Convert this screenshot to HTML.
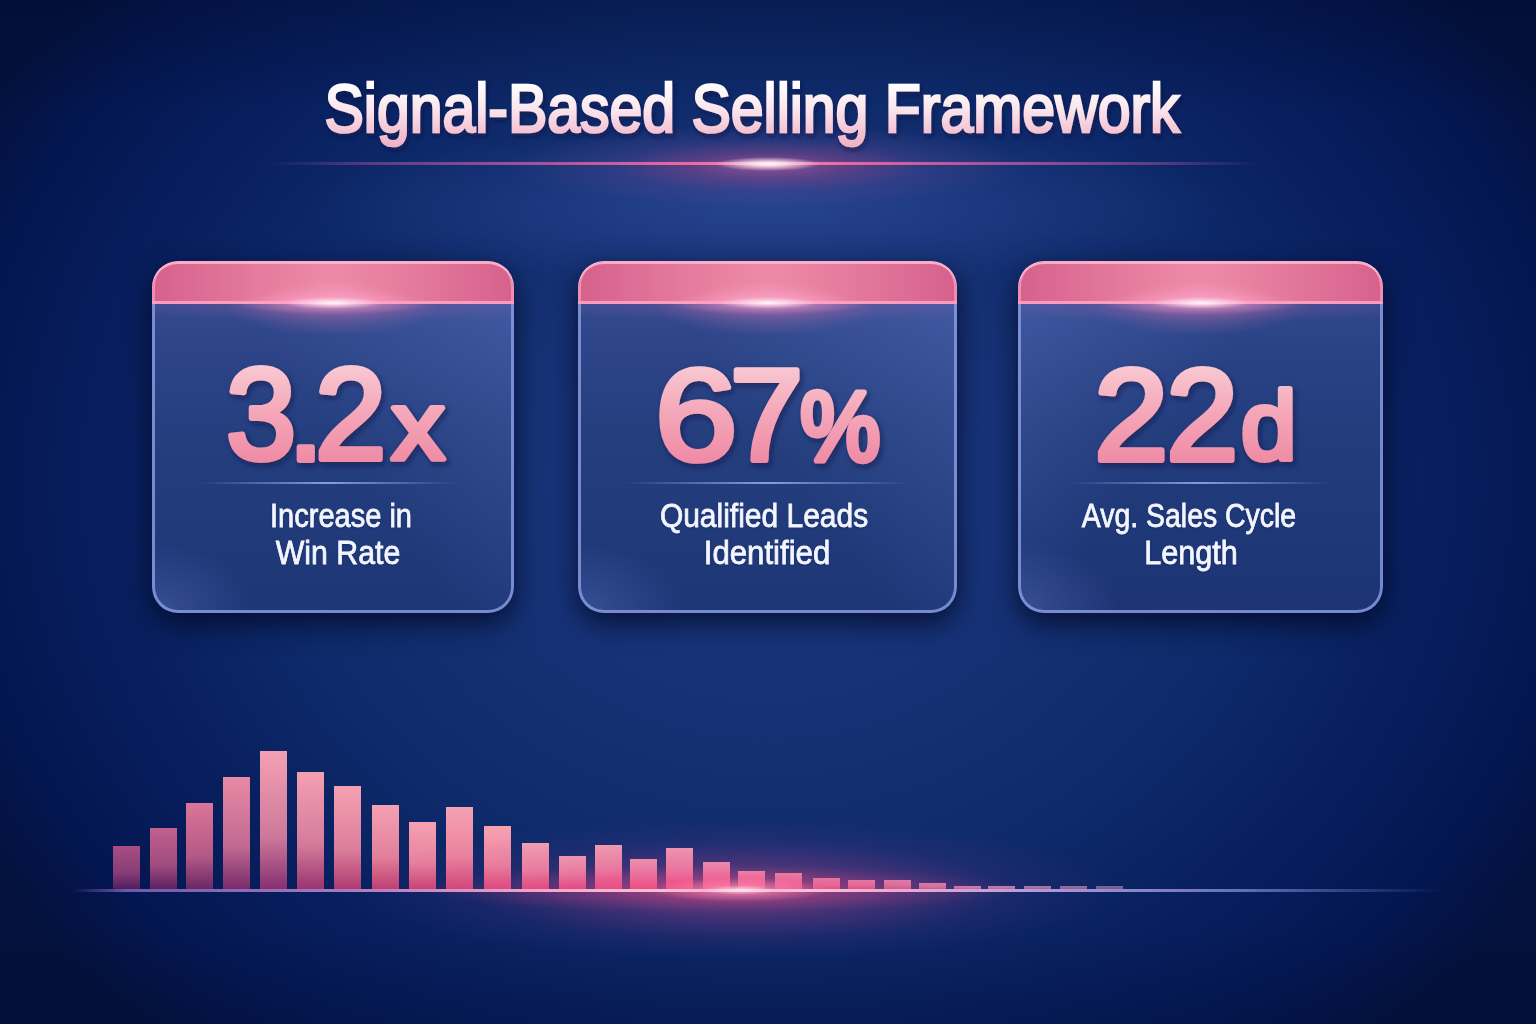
<!DOCTYPE html>
<html><head><meta charset="utf-8">
<style>
html,body{margin:0;padding:0;}
body{width:1536px;height:1024px;overflow:hidden;position:relative;font-family:"Liberation Sans",sans-serif;background:#0a1e5a;}
.layer{position:absolute;left:0;top:0;width:1536px;height:1024px;}
#bg1{background:radial-gradient(ellipse 900px 760px at 768px 480px,#1c3a82 0%,#163276 30%,#0e2a6a 55%,#071d5c 76%,#041650 90%,#03113c 100%);}
#bg2{background:linear-gradient(to bottom,rgba(0,10,40,.3) 0px,rgba(0,10,40,0) 110px,rgba(0,10,40,0) 930px,rgba(0,10,40,.18) 1024px);}
#bg3{background:radial-gradient(ellipse 460px 80px at 768px 205px,rgba(60,90,175,.45),rgba(60,90,175,0));}
svg{position:absolute;left:0;top:0;overflow:visible;}
.lab{position:absolute;white-space:nowrap;line-height:1;transform-origin:0 0;font-size:33px;color:#f4f6ff;-webkit-text-stroke:0.8px #f4f6ff;text-shadow:0 1px 2px rgba(5,15,50,.4);}
#tline{position:absolute;left:270px;top:162px;width:990px;height:3px;
 background:linear-gradient(90deg,rgba(150,80,170,0) 0%,rgba(160,80,165,.5) 10%,rgba(215,90,160,.8) 28%,#ff72a4 42%,#ffb8d4 50%,#ff72a4 58%,rgba(215,90,160,.8) 72%,rgba(160,80,165,.5) 90%,rgba(150,80,170,0) 100%);}
#tglow{position:absolute;left:508px;top:124px;width:520px;height:84px;
 background:radial-gradient(ellipse 260px 42px at center,rgba(240,100,160,.55) 0%,rgba(200,80,150,.35) 30%,rgba(130,80,160,.18) 60%,rgba(130,80,160,0) 100%);}
#tspot{position:absolute;left:716px;top:157px;width:104px;height:14px;
 background:radial-gradient(ellipse 52px 7px at center,rgba(255,252,254,1) 0%,rgba(255,225,238,.85) 35%,rgba(255,160,205,0) 100%);}
.card{position:absolute;top:261px;height:352px;box-sizing:border-box;border-radius:26px;
 background:
  radial-gradient(ellipse 30% 9% at 50% 43px,rgba(225,120,180,.45),rgba(225,120,180,0)),
  radial-gradient(ellipse 70% 5% at 50% 43px,rgba(150,90,165,.45),rgba(150,90,165,0)),
  radial-gradient(ellipse 28% 20% at 0% 100%,rgba(120,140,220,.3),rgba(120,140,220,0)),
  linear-gradient(235deg,rgba(105,130,212,.3) 0%,rgba(105,130,212,0) 50%),
  linear-gradient(180deg,#3d5196 0%,#2f468a 20%,#243e7e 50%,#1d3676 100%);
 box-shadow:0 10px 28px rgba(0,6,30,.75);overflow:hidden;}
.card.c3{background:
  radial-gradient(ellipse 30% 9% at 50% 43px,rgba(225,120,180,.45),rgba(225,120,180,0)),
  radial-gradient(ellipse 70% 5% at 50% 43px,rgba(150,90,165,.45),rgba(150,90,165,0)),
  radial-gradient(ellipse 28% 20% at 0% 100%,rgba(120,140,220,.3),rgba(120,140,220,0)),
  linear-gradient(125deg,rgba(105,130,212,.3) 0%,rgba(105,130,212,0) 45%),
  linear-gradient(180deg,#3b4f94 0%,#2c4488 20%,#223c7c 50%,#1c3474 100%);}
.card .bd{position:absolute;left:0;top:0;right:0;bottom:0;border-radius:26px;box-shadow:inset 0 0 0 3px rgba(135,152,222,.85);}
.card .hd{position:absolute;left:0;top:0;right:0;height:43px;border-radius:26px 26px 0 0;
 background:
  radial-gradient(ellipse 22% 55% at 50% 100%,rgba(255,175,210,.55),rgba(255,175,210,0)),
  linear-gradient(90deg,#d6618c 0%,#e47a9d 28%,#ee8aa8 50%,#e47a9d 72%,#d6618c 100%);
 box-shadow:inset 0 3px 0 rgba(255,185,205,.85), inset 3px 0 0 rgba(250,160,190,.7), inset -3px 0 0 rgba(250,160,190,.7), inset 0 -3px 0 rgba(255,165,200,.85);}
.card .hglow{position:absolute;left:50%;top:30px;width:200px;height:24px;margin-left:-100px;
 background:radial-gradient(ellipse 100px 12px at center,rgba(255,250,252,1) 0%,rgba(255,220,235,.85) 18%,rgba(255,160,200,.35) 50%,rgba(255,140,190,0) 100%);}
.div{position:absolute;top:482px;height:2px;
 background:linear-gradient(90deg,rgba(130,150,230,0),rgba(150,165,240,.9) 50%,rgba(130,150,230,0));}
.bar{position:absolute;width:27px;}
#base{position:absolute;left:72px;top:889px;width:1370px;height:2.5px;
 background:linear-gradient(90deg,rgba(120,110,210,0) 0%,rgba(150,120,210,.7) 4%,rgba(190,130,200,.9) 20%,#f4a8c8 35%,#ffd0e0 48%,#ffe0ea 49.5%,#f0b0d0 58%,#c0a0dc 68%,rgba(130,140,220,.75) 85%,rgba(120,140,220,0) 100%);}
#bglow{position:absolute;left:360px;top:815px;width:760px;height:140px;
 background:radial-gradient(ellipse 380px 70px at 380px 75px,rgba(240,85,145,.5) 0%,rgba(200,70,150,.28) 40%,rgba(150,60,150,.1) 70%,rgba(150,60,150,0) 100%);}
#bred{position:absolute;left:420px;top:866px;width:600px;height:46px;
 background:radial-gradient(ellipse 300px 23px at center,rgba(245,75,125,.5) 0%,rgba(230,70,130,.25) 50%,rgba(230,70,130,0) 100%);}
#bspot{position:absolute;left:650px;top:878px;width:180px;height:24px;
 background:radial-gradient(ellipse 90px 12px at center,rgba(255,230,240,.9) 0%,rgba(255,150,190,.45) 40%,rgba(255,120,170,0) 100%);}
#bdark{position:absolute;left:0;top:700px;width:700px;height:324px;
 background:radial-gradient(ellipse 330px 170px at 90px 200px,rgba(2,8,40,.55) 0%,rgba(2,8,40,.3) 50%,rgba(2,8,40,0) 100%);}
</style></head>
<body>
<div class="layer" id="bg1"></div>
<div class="layer" id="bg2"></div>
<div class="layer" id="bg3"></div>
<div id="tline"></div>
<div id="tglow"></div>
<div id="tspot"></div>
<div class="card" style="left:152px;width:362px;"><div class="bd"></div><div class="hd"></div><div class="hglow"></div></div>
<div class="card" style="left:578px;width:379px;"><div class="bd"></div><div class="hd"></div><div class="hglow"></div></div>
<div class="card c3" style="left:1018px;width:365px;"><div class="bd"></div><div class="hd"></div><div class="hglow"></div></div>
<div class="div" style="left:200px;width:256px"></div>
<div class="div" style="left:624px;width:287px"></div>
<div class="div" style="left:1070px;width:260px"></div>
<svg width="1536" height="1024" viewBox="0 0 1536 1024">
<defs>
<linearGradient id="gt" x1="0" y1="-49" x2="0" y2="15" gradientUnits="userSpaceOnUse"><stop offset="0" stop-color="#ffffff"/><stop offset=".4" stop-color="#fbe6ee"/><stop offset=".75" stop-color="#f4c4d4"/><stop offset="1" stop-color="#eeb0c6"/></linearGradient>
<linearGradient id="gn" x1="0" y1="-97" x2="0" y2="1" gradientUnits="userSpaceOnUse"><stop offset="0" stop-color="#f9c8d2"/><stop offset=".5" stop-color="#f4a6b8"/><stop offset="1" stop-color="#ef8aa5"/></linearGradient>
<filter id="sh" x="-10%" y="-20%" width="120%" height="140%"><feDropShadow dx="2" dy="3" stdDeviation="2.5" flood-color="#0a1240" flood-opacity=".55"/></filter>
</defs>
<defs><linearGradient id="gg0" x1="0" y1="-72.07" x2="0" y2="2.93" gradientUnits="userSpaceOnUse"><stop offset="0" stop-color="#f9c8d2"/><stop offset=".5" stop-color="#f4a6b8"/><stop offset="1" stop-color="#ef8aa5"/></linearGradient><linearGradient id="gg1" x1="0" y1="-77.73" x2="0" y2="2.48" gradientUnits="userSpaceOnUse"><stop offset="0" stop-color="#f9c8d2"/><stop offset=".5" stop-color="#f4a6b8"/><stop offset="1" stop-color="#ef8aa5"/></linearGradient><linearGradient id="gg2" x1="0" y1="-72.08" x2="0" y2="3.10" gradientUnits="userSpaceOnUse"><stop offset="0" stop-color="#f9c8d2"/><stop offset=".5" stop-color="#f4a6b8"/><stop offset="1" stop-color="#ef8aa5"/></linearGradient><linearGradient id="gg3" x1="0" y1="-96.19" x2="0" y2="4.14" gradientUnits="userSpaceOnUse"><stop offset="0" stop-color="#f9c8d2"/><stop offset=".5" stop-color="#f4a6b8"/><stop offset="1" stop-color="#ef8aa5"/></linearGradient><linearGradient id="gg4" x1="0" y1="-72.06" x2="0" y2="2.54" gradientUnits="userSpaceOnUse"><stop offset="0" stop-color="#f9c8d2"/><stop offset=".5" stop-color="#f4a6b8"/><stop offset="1" stop-color="#ef8aa5"/></linearGradient><linearGradient id="gg5" x1="0" y1="-72.61" x2="0" y2="2.32" gradientUnits="userSpaceOnUse"><stop offset="0" stop-color="#f9c8d2"/><stop offset=".5" stop-color="#f4a6b8"/><stop offset="1" stop-color="#ef8aa5"/></linearGradient><linearGradient id="gg6" x1="0" y1="-95.72" x2="0" y2="3.05" gradientUnits="userSpaceOnUse"><stop offset="0" stop-color="#f9c8d2"/><stop offset=".5" stop-color="#f4a6b8"/><stop offset="1" stop-color="#ef8aa5"/></linearGradient><linearGradient id="gg7" x1="0" y1="-72.06" x2="0" y2="2.70" gradientUnits="userSpaceOnUse"><stop offset="0" stop-color="#f9c8d2"/><stop offset=".5" stop-color="#f4a6b8"/><stop offset="1" stop-color="#ef8aa5"/></linearGradient><linearGradient id="gg8" x1="0" y1="-72.06" x2="0" y2="2.70" gradientUnits="userSpaceOnUse"><stop offset="0" stop-color="#f9c8d2"/><stop offset=".5" stop-color="#f4a6b8"/><stop offset="1" stop-color="#ef8aa5"/></linearGradient><linearGradient id="gg9" x1="0" y1="-95.12" x2="0" y2="4.60" gradientUnits="userSpaceOnUse"><stop offset="0" stop-color="#f9c8d2"/><stop offset=".5" stop-color="#f4a6b8"/><stop offset="1" stop-color="#ef8aa5"/></linearGradient></defs>
<text transform="translate(752,132) scale(0.867,1)" text-anchor="middle" font-family="Liberation Sans" font-weight="normal" font-size="68" fill="url(#gt)" stroke="url(#gt)" stroke-width="2.6" filter="url(#sh)">Signal-Based Selling Framework</text>
<g filter="url(#sh)"><text transform="translate(226.30,459.21) scale(1.2526,1.2933)" font-family="Liberation Sans" font-weight="normal" font-size="100" fill="url(#gg0)" stroke="url(#gg0)" stroke-width="6" vector-effect="non-scaling-stroke" stroke-linejoin="round">3</text>
<text transform="translate(288.32,460.00) scale(1.2632,1.2093)" font-family="Liberation Sans" font-weight="normal" font-size="100" fill="url(#gg1)" stroke="url(#gg1)" stroke-width="6" vector-effect="non-scaling-stroke" stroke-linejoin="round">.</text>
<text transform="translate(315.13,459.00) scale(1.2747,1.2903)" font-family="Liberation Sans" font-weight="normal" font-size="100" fill="url(#gg2)" stroke="url(#gg2)" stroke-width="6" vector-effect="non-scaling-stroke" stroke-linejoin="round">2</text>
<text transform="translate(391.68,459.00) scale(1.0526,0.9668)" font-family="Liberation Sans" font-weight="normal" font-size="100" fill="url(#gg3)" stroke="url(#gg3)" stroke-width="6" vector-effect="non-scaling-stroke" stroke-linejoin="round">x</text>
<text transform="translate(655.09,459.70) scale(1.4811,1.3004)" font-family="Liberation Sans" font-weight="normal" font-size="100" fill="url(#gg4)" stroke="url(#gg4)" stroke-width="6" vector-effect="non-scaling-stroke" stroke-linejoin="round">6</text>
<text transform="translate(730.10,460.00) scale(1.3149,1.2945)" font-family="Liberation Sans" font-weight="normal" font-size="100" fill="url(#gg5)" stroke="url(#gg5)" stroke-width="6" vector-effect="non-scaling-stroke" stroke-linejoin="round">7</text>
<text transform="translate(800.35,460.01) scale(0.8991,0.9821)" font-family="Liberation Sans" font-weight="normal" font-size="100" fill="url(#gg6)" stroke="url(#gg6)" stroke-width="6" vector-effect="non-scaling-stroke" stroke-linejoin="round">%</text>
<text transform="translate(1094.35,459.50) scale(1.3297,1.2975)" font-family="Liberation Sans" font-weight="normal" font-size="100" fill="url(#gg7)" stroke="url(#gg7)" stroke-width="6" vector-effect="non-scaling-stroke" stroke-linejoin="round">2</text>
<text transform="translate(1166.57,459.50) scale(1.2857,1.2975)" font-family="Liberation Sans" font-weight="normal" font-size="100" fill="url(#gg8)" stroke="url(#gg8)" stroke-width="6" vector-effect="non-scaling-stroke" stroke-linejoin="round">2</text>
<text transform="translate(1241.30,458.53) scale(0.9889,0.9728)" font-family="Liberation Sans" font-weight="normal" font-size="100" fill="url(#gg9)" stroke="url(#gg9)" stroke-width="6" vector-effect="non-scaling-stroke" stroke-linejoin="round">d</text></g>
</svg>
<div class="lab" style="left:341px;top:499.1px;transform:scaleX(0.88) translateX(-50%)">Increase in</div>
<div class="lab" style="left:338px;top:536.1px;transform:scaleX(0.917) translateX(-50%)">Win Rate</div>
<div class="lab" style="left:764px;top:499.1px;transform:scaleX(0.908) translateX(-50%)">Qualified Leads</div>
<div class="lab" style="left:767px;top:536.1px;transform:scaleX(0.945) translateX(-50%)">Identified</div>
<div class="lab" style="left:1188.5px;top:499.1px;transform:scaleX(0.861) translateX(-50%)">Avg. Sales Cycle</div>
<div class="lab" style="left:1190.5px;top:536.1px;transform:scaleX(0.928) translateX(-50%)">Length</div>
<div id="bars">
<div class="bar" style="left:113px;top:846px;height:43px;background:linear-gradient(#a84e84,#883d76 62%,#4e1e5c);opacity:1.00"></div>
<div class="bar" style="left:150px;top:828px;height:61px;background:linear-gradient(#c2618e,#9e4b7e 62%,#5c2261);opacity:1.00"></div>
<div class="bar" style="left:186px;top:803px;height:86px;background:linear-gradient(#dc7498,#b45986 62%,#6a2766);opacity:1.00"></div>
<div class="bar" style="left:223px;top:777px;height:112px;background:linear-gradient(#e88aa5,#c16991 62%,#782c6b);opacity:1.00"></div>
<div class="bar" style="left:260px;top:751px;height:138px;background:linear-gradient(#f4a0b2,#ce799b 62%,#863070);opacity:1.00"></div>
<div class="bar" style="left:297px;top:772px;height:117px;background:linear-gradient(#f4a0b2,#d47b9b 62%,#993570);opacity:1.00"></div>
<div class="bar" style="left:334px;top:786px;height:103px;background:linear-gradient(#f5a1b2,#dc7d9b 62%,#ad3b70);opacity:1.00"></div>
<div class="bar" style="left:372px;top:805px;height:84px;background:linear-gradient(#f5a1b2,#e27f9b 62%,#c04070);opacity:1.00"></div>
<div class="bar" style="left:409px;top:822px;height:67px;background:linear-gradient(#f5a1b3,#e7809d 62%,#cc4473);opacity:1.00"></div>
<div class="bar" style="left:446px;top:807px;height:82px;background:linear-gradient(#f5a1b3,#eb829e 62%,#d84877);opacity:1.00"></div>
<div class="bar" style="left:484px;top:826px;height:63px;background:linear-gradient(#f6a2b3,#f0849f 62%,#e44c7a);opacity:1.00"></div>
<div class="bar" style="left:522px;top:843px;height:46px;background:linear-gradient(#f6a2b3,#f185a0 62%,#e94e7c);opacity:1.00"></div>
<div class="bar" style="left:559px;top:856px;height:33px;background:linear-gradient(#f6a2b3,#f385a0 62%,#ed507e);opacity:1.00"></div>
<div class="bar" style="left:595px;top:845px;height:44px;background:linear-gradient(#f7a3b3,#f587a1 62%,#f25280);opacity:1.00"></div>
<div class="bar" style="left:630px;top:859px;height:30px;background:linear-gradient(#f7a3b3,#f587a2 62%,#f25381);opacity:1.00"></div>
<div class="bar" style="left:666px;top:848px;height:41px;background:linear-gradient(#f7a3b4,#f688a2 62%,#f35582);opacity:1.00"></div>
<div class="bar" style="left:703px;top:862px;height:27px;background:linear-gradient(#f7a3b4,#f688a3 62%,#f35683);opacity:1.00"></div>
<div class="bar" style="left:738px;top:871px;height:18px;background:linear-gradient(#f8a4b4,#f689a4 62%,#f35885);opacity:1.00"></div>
<div class="bar" style="left:775px;top:873px;height:16px;background:linear-gradient(#f8a4b4,#f68aa4 62%,#f35986);opacity:0.98"></div>
<div class="bar" style="left:813px;top:878px;height:11px;background:linear-gradient(#f6a4b6,#f58aa6 62%,#f45b87);opacity:0.96"></div>
<div class="bar" style="left:848px;top:880px;height:9px;background:linear-gradient(#f5a5b8,#f58ba7 62%,#f45c88);opacity:0.94"></div>
<div class="bar" style="left:884px;top:880px;height:9px;background:linear-gradient(#f3a5ba,#f28eab 62%,#f0628f);opacity:0.92"></div>
<div class="bar" style="left:919px;top:883px;height:6px;background:linear-gradient(#f2a6bc,#f091af 62%,#ed6996);opacity:0.88"></div>
<div class="bar" style="left:954px;top:886px;height:3px;background:linear-gradient(#f0a6be,#ee93b2 62%,#ea709d);opacity:0.84"></div>
<div class="bar" style="left:988px;top:886px;height:3px;background:linear-gradient(#eea6c0,#eb95b6 62%,#e676a4);opacity:0.80"></div>
<div class="bar" style="left:1024px;top:886px;height:3px;background:linear-gradient(#eda7c2,#e998ba 62%,#e27cab);opacity:0.70"></div>
<div class="bar" style="left:1060px;top:886px;height:3px;background:linear-gradient(#eba7c4,#e79abe 62%,#df83b2);opacity:0.60"></div>
<div class="bar" style="left:1096px;top:886px;height:3px;background:linear-gradient(#eaa8c6,#e59ec1 62%,#dc8ab9);opacity:0.50"></div>
</div>
<div id="bglow"></div>
<div id="bred"></div>
<div id="base"></div>
<div id="bspot"></div>
</body></html>
